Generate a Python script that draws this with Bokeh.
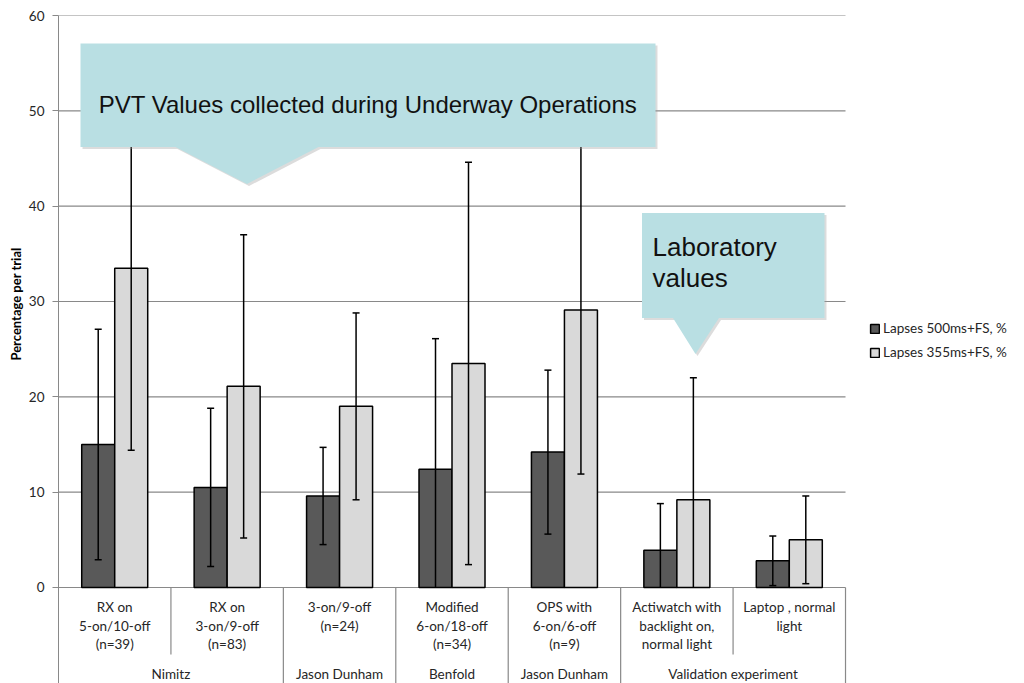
import numpy as np
from bokeh.plotting import figure
from bokeh.models import Range1d, FixedTicker, Title
from bokeh.core.properties import value
from bokeh.embed import file_html
from bokeh.resources import INLINE

# ---------------- data ----------------
categories = [
    "RX on\n5-on/10-off\n(n=39)",
    "RX on\n3-on/9-off\n(n=83)",
    "3-on/9-off\n(n=24)",
    "Modified\n6-on/18-off\n(n=34)",
    "OPS with\n6-on/6-off\n(n=9)",
    "Actiwatch with\nbacklight on,\nnormal light",
    "Laptop , normal\nlight",
]
groups = ["Nimitz", "Jason Dunham", "Benfold", "Jason Dunham", "Validation experiment"]
group_spans = [2, 1, 1, 1, 2]

series_names = ["Lapses 500ms+FS, %", "Lapses 355ms+FS, %"]
lapses_500 = [15.0, 10.5, 9.6, 12.4, 14.2, 3.9, 2.8]
lapses_500_err = [12.1, 8.3, 5.1, 13.7, 8.6, 4.9, 2.6]
lapses_355 = [33.5, 21.1, 19.0, 23.5, 29.1, 9.2, 5.0]
lapses_355_err = [19.1, 15.9, 9.8, 21.1, 17.2, 12.8, 4.6]

y_ticks = [0, 10, 20, 30, 40, 50, 60]
y_label = "Percentage per trial"
callout_main = "PVT Values collected during Underway Operations"
callout_lab = ["Laboratory", "values"]

# ---------------- layout helpers ----------------
PX_PER_UNIT = 9.533          # vertical pixels per percent
CAT_PX = 112.43              # horizontal pixels per category
ZERO_PX = 587                # page y of value 0
LEFT_PX = 58                 # page x of axis
TOP_PX = 15
W, H = 1016, 683


def py(page_y):
    return (ZERO_PX - page_y) / PX_PER_UNIT


def px(page_x):
    return 0.5 + (page_x - LEFT_PX) / CAT_PX


p = figure(width=W, height=H,
           x_range=Range1d(0.5, 0.5 + (W - LEFT_PX) / CAT_PX),
           y_range=Range1d(py(H), 60),
           output_backend="svg", toolbar_location=None,
           x_axis_location=None,
           min_border_left=LEFT_PX, min_border_right=0,
           min_border_top=TOP_PX, min_border_bottom=0)
p.outline_line_color = None
p.xgrid.visible = False
p.ygrid.visible = False
p.background_fill_color = "white"

FONT = "Lato"
GRAY = "#898989"
TXT = "#262626"
FS = "13.5px"

# y axis
ax = p.yaxis[0]
ax.ticker = FixedTicker(ticks=y_ticks)
ax.axis_line_color = GRAY
ax.major_tick_line_color = GRAY
ax.major_tick_out = 6
ax.major_tick_in = 0
ax.minor_tick_out = 0
ax.minor_tick_in = 0
ax.major_label_text_font = FONT
ax.major_label_text_font_size = FS
ax.major_label_text_color = TXT
ax.major_label_standoff = 8

# y axis title, positioned along the 0..60 part of the axis
p.add_layout(Title(text=y_label, align="right", offset=232, standoff=4,
                   text_font=FONT, text_font_style="bold", text_font_size="13px",
                   text_color="black"), "left")

n = len(categories)
xc = np.arange(1, n + 1)

# gridlines (stop at the last category)
p.segment(x0=0.5, x1=n + 0.5, y0=y_ticks, y1=y_ticks, line_color=GRAY, line_width=1.2)

# bars
bw = 0.2935
off = bw / 2
r1 = p.vbar(x=xc - off, top=lapses_500, width=bw, bottom=0, fill_color="#595959",
            line_color="black", line_width=1.5, legend_label=series_names[0])
r2 = p.vbar(x=xc + off, top=lapses_355, width=bw, bottom=0, fill_color="#d9d9d9",
            line_color="black", line_width=1.5, legend_label=series_names[1])

# error bars
for xs, vals, errs in [(xc - off, lapses_500, lapses_500_err), (xc + off, lapses_355, lapses_355_err)]:
    vals = np.array(vals)
    errs = np.array(errs)
    lo = vals - errs
    hi = vals + errs
    p.segment(x0=xs, x1=xs, y0=np.maximum(lo, 0), y1=hi, line_color="black", line_width=1.5)
    p.scatter(x=xs, y=hi, marker="dash", size=7, line_color="black", line_width=1.5)
    m = lo >= 0
    p.scatter(x=xs[m], y=lo[m], marker="dash", size=7, line_color="black", line_width=1.5)

# category separators and labels
line_ys = [py(607), py(625.5), py(644)]
group_y = py(674)
bounds_long = []
bounds_short = []
pos = 0
for span in group_spans:
    for k in range(1, span):
        bounds_short.append(pos + k + 0.5)
    pos += span
    bounds_long.append(pos + 0.5)
p.segment(x0=bounds_short, x1=bounds_short, y0=0, y1=py(654), line_color=GRAY, line_width=1.2)
p.segment(x0=bounds_long, x1=bounds_long, y0=0, y1=py(700), line_color=GRAY, line_width=1.2)

tx, ty, tt = [], [], []
for i, lab in enumerate(categories):
    for j, line in enumerate(lab.split("\n")):
        tx.append(i + 1)
        ty.append(line_ys[j])
        tt.append(line)
p.text(x=tx, y=ty, text=tt, text_align="center", text_baseline="middle",
       text_font=value(FONT), text_font_size=FS, text_color=TXT)

gx = []
pos = 0
for span in group_spans:
    gx.append(pos + (span + 1) / 2)
    pos += span
p.text(x=gx, y=[group_y] * len(gx), text=groups, text_align="center", text_baseline="middle",
       text_font=value(FONT), text_font_size=FS, text_color=TXT)

# callouts
TEAL = "#b9dfe3"


def callout(L, R, T, B, bl, br, tipx, tipy):
    xs = [px(L), px(R), px(R), px(br), px(tipx), px(bl), px(L)]
    ys = [py(T), py(T), py(B), py(B), py(tipy), py(B), py(B)]
    sx = [x + 2 / CAT_PX for x in xs]
    sy = [y - 2 / PX_PER_UNIT for y in ys]
    p.patch(sx, sy, fill_color="#9a9a9a", fill_alpha=0.35, line_color=None)
    p.patch(xs, ys, fill_color=TEAL, line_color=None)


callout(80, 655, 43, 146.5, 175, 318, 246.5, 183.5)
callout(641.5, 824, 212.5, 317.5, 672.5, 718.5, 695, 353.5)

p.text(x=[px(367.5)], y=[py(104)], text=[callout_main], text_align="center", text_baseline="middle",
       text_font=value("Liberation Sans"), text_font_size="24px", text_color="#111111")
p.text(x=[px(652)] * 2, y=[py(247), py(278)], text=callout_lab, text_align="left", text_baseline="middle",
       text_font=value("Liberation Sans"), text_font_size="26px", text_color="#111111")

# legend
lg = p.legend[0]
lg.border_line_color = None
lg.background_fill_alpha = 0
lg.padding = 0
lg.margin = 0
lg.spacing = 4
lg.glyph_width = 11
lg.glyph_height = 11
lg.label_height = 20
lg.label_standoff = 3
lg.label_text_font = FONT
lg.label_text_font_size = "13.5px"
lg.label_text_color = TXT
lg.location = (869 - LEFT_PX, H - 362)

open("out.html", "w").write(file_html(p, INLINE))
